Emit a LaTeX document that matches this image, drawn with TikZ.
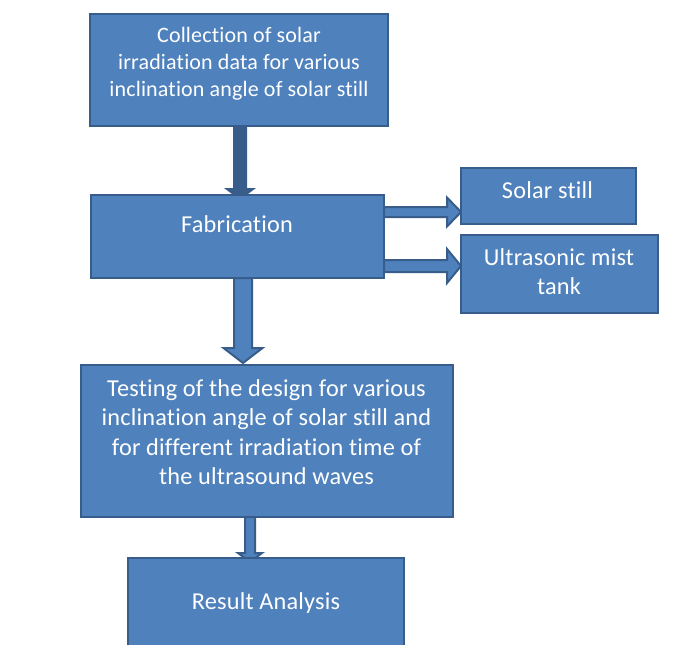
\documentclass[tikz,border=0pt]{standalone}
\usepackage{fontspec}
\setmainfont{Carlito}[Ligatures=NoCommon, LetterSpace=0.8]
\usetikzlibrary{calc,backgrounds}
\definecolor{boxfill}{HTML}{4F81BD}
\definecolor{boxline}{HTML}{385D8A}
\begin{document}
\begin{tikzpicture}[x=1pt,y=-1pt,
  box/.style={rectangle, draw=boxline, fill=boxfill, line width=2.5pt, inner sep=0pt, outer sep=0pt},
  txt/.style={text=white, inner sep=0pt, outer sep=0pt, anchor=base},
  big/.style={font=\fontsize{24.3}{29.6}\selectfont},
  small/.style={font=\fontsize{22}{27}\selectfont},
  hollow/.style={draw=boxline, fill=boxfill, line width=2pt, line join=miter},
  darkarrow/.style={fill=boxline}]
\useasboundingbox (0,0) rectangle (683,645);
\clip (0,0) rectangle (683,645);

% boxes
\node[box, minimum width=298pt, minimum height=112pt] (b1) at (239,70) {};
\node[box, minimum width=293pt, minimum height=83pt] (b2) at (237.5,236.5) {};
\node[box, minimum width=175pt, minimum height=56pt] (b3) at (548.5,196) {};
\node[box, minimum width=197pt, minimum height=78pt] (b4) at (559.5,274) {};
\node[box, minimum width=372pt, minimum height=152pt] (b5) at (267,441) {};
\node[box, minimum width=276pt, minimum height=122pt] (b6) at (266,619) {};

% block arrows (behind the boxes)
\begin{pgfonlayer}{background}
\fill[darkarrow] let \p1=([xshift=1pt]b1.south), \p2=(b2.north) in
  (\x1-7pt,\y1) -- (\x1-7pt,\y2+7pt) -- (\x1-16pt,\y2+7pt) -- (\x1,\y2-5pt)
  -- (\x1+16pt,\y2+7pt) -- (\x1+7pt,\y2+7pt) -- (\x1+7pt,\y1) -- cycle;
\draw[hollow] let \p1=([yshift=24.5pt]b2.east), \p2=(b3.west) in
  (\x1,\y1+5pt) -- (\x2-14pt,\y1+5pt) -- (\x2-14pt,\y1+14.5pt) -- (\x2,\y1)
  -- (\x2-14pt,\y1-14.5pt) -- (\x2-14pt,\y1-5pt) -- (\x1,\y1-5pt) -- cycle;
\draw[hollow] let \p1=([yshift=-29.5pt]b2.east), \p2=(b4.west) in
  (\x1,\y1+6pt) -- (\x2-14pt,\y1+6pt) -- (\x2-14pt,\y1+17pt) -- (\x2,\y1)
  -- (\x2-14pt,\y1-17pt) -- (\x2-14pt,\y1-6pt) -- (\x1,\y1-6pt) -- cycle;
\draw[hollow] let \p1=([xshift=5.5pt]b2.south), \p2=(b5.north) in
  (\x1-9pt,\y1) -- (\x1-9pt,\y2+17pt) -- (\x1-19.5pt,\y2+17pt) -- (\x1,\y2+2pt)
  -- (\x1+19.5pt,\y2+17pt) -- (\x1+9pt,\y2+17pt) -- (\x1+9pt,\y1) -- cycle;
\draw[hollow] let \p1=([xshift=-17pt]b5.south), \p2=(b6.north) in
  (\x1-5pt,\y1) -- (\x1-5pt,\y2+5pt) -- (\x1-12pt,\y2+5pt) -- (\x1,\y2-4pt)
  -- (\x1+12pt,\y2+5pt) -- (\x1+5pt,\y2+5pt) -- (\x1+5pt,\y1) -- cycle;
\end{pgfonlayer}

% texts
\node[txt, small] (t1) at (239,42) {\begin{tabular}[t]{@{}c@{}}Collection of solar\\irradiation data for various\\inclination angle of solar still\end{tabular}};
\node[txt, big] (t2) at (237,232) {Fabrication};
\node[txt, big] (t3) at (547.5,198) {Solar still};
\node[txt, big] (t4) at (559,265) {\begin{tabular}[t]{@{}c@{}}Ultrasonic mist\\tank\end{tabular}};
\node[txt, big] (t5) at (266.5,396) {\begin{tabular}[t]{@{}c@{}}Testing of the design for various\\inclination angle of solar still and\\for different irradiation time of\\the ultrasound waves\end{tabular}};
\node[txt, big] (t6) at (266,609) {Result Analysis};
\end{tikzpicture}
\end{document}
